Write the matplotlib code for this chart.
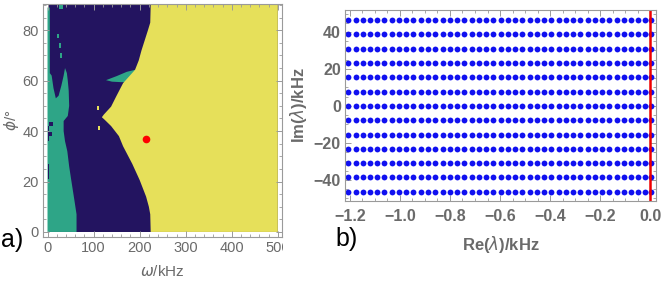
import numpy as np
import matplotlib
matplotlib.use("Agg")
import matplotlib.pyplot as plt
from matplotlib.ticker import MultipleLocator, FuncFormatter
from matplotlib.transforms import Bbox, TransformedBbox

plt.rcParams['font.family'] = ['Liberation Sans', 'DejaVu Sans']

# ---- panel a) stability map, region boundaries ----
omega_range = [0, 500]
phi_range = [0, 90]

# left edge of the yellow region (omega in kHz vs phi in degrees)
yellow_phi = [0, 7, 10, 14, 20.6, 27, 34, 38, 42, 44.5, 45.5, 46.5, 49.7, 53.7,
              59, 64.3, 68, 72, 76, 80, 83, 90]
yellow_omega = [224, 223, 220, 214, 200, 184, 164, 155, 138, 124, 118, 122, 138, 149,
                164, 190, 198, 204, 211, 218, 223, 224]

# teal region along the left edge
teal_omega = [0, 63, 63, 58, 52, 47, 43, 38, 35, 35, 44, 47, 46, 44, 42, 38, 35,
              30, 24, 18, 13, 9, 5, 5, 0]
teal_phi = [0, 0, 7, 13, 20, 26, 32, 36, 40, 44, 46, 50, 56, 60, 63, 65, 62,
            58, 54, 53, 57, 62, 63, 89, 89]

# thin teal sliver near phi = 60
sliver_omega = [127, 150, 172, 190, 190, 160, 140]
sliver_phi = [60.2, 61.8, 63.5, 64.3, 59.4, 59.4, 59.6]

# small teal specks (omega0, omega1, phi0, phi1)
teal_specks = [(25, 34, 88.5, 90), (20, 25, 77, 78.5), (25, 28.6, 73, 75), (27, 32, 69, 71)]
# small yellow specks
yellow_specks = [(108, 112, 48.5, 50), (110, 114, 40.5, 42)]
# dark purple bits inside the teal area
dark_specks = [(1, 9, 38, 39.5), (1, 3, 36, 42), (3, 11, 42, 43.5), (0, 3, 21, 27)]

marker_omega = 213
marker_phi = 37

# ---- panel b) eigenvalue spectrum ----
re_lambda = [-1.207, -1.178, -1.150, -1.120, -1.092, -1.063, -1.034, -1.004, -0.976,
             -0.947, -0.917, -0.889, -0.860, -0.830, -0.802, -0.773, -0.744, -0.714,
             -0.686, -0.657, -0.628, -0.598, -0.570, -0.541, -0.512, -0.482, -0.454,
             -0.425, -0.396, -0.366, -0.338, -0.309, -0.280, -0.250, -0.222, -0.193,
             -0.164, -0.134, -0.106, -0.077, -0.047, -0.021, 0.004]
im_lambda = [-46.5, -38.7, -31.0, -23.2, -15.5, -7.75, 0.0,
             7.75, 15.5, 23.2, 31.0, 38.7, 46.5]
threshold_re = -0.002

dark = '#231460'
teal = '#2ea587'
yellow = '#e6e05a'
frame_col = '#9a9a9a'
label_col = '#6a6a6a'

W, H = 664, 282
fig = plt.figure(figsize=(W / 100, H / 100), dpi=100)


def style_frame(ax):
    for s in ax.spines.values():
        s.set_color(frame_col)
        s.set_linewidth(0.8)
    ax.tick_params(which='both', direction='in', color=frame_col,
                   top=True, right=True, labelcolor=label_col)
    ax.tick_params(which='major', length=4, width=0.7)
    ax.tick_params(which='minor', length=2, width=0.6)


# panel a
ax1 = fig.add_axes([43 / W, 1 - 237 / H, (282 - 43) / W, (237 - 4) / H])
ax1.fill([omega_range[0], omega_range[1], omega_range[1], omega_range[0]],
         [phi_range[0], phi_range[0], phi_range[1], phi_range[1]], color=dark, lw=0)
ax1.fill(teal_omega, teal_phi, color=teal, lw=0)
ax1.fill(sliver_omega, sliver_phi, color=teal, lw=0)
for o0, o1, p0, p1 in teal_specks:
    ax1.fill([o0, o1, o1, o0], [p0, p0, p1, p1], color=teal, lw=0)
for o0, o1, p0, p1 in dark_specks:
    ax1.fill([o0, o1, o1, o0], [p0, p0, p1, p1], color=dark, lw=0)
ax1.fill(yellow_omega + [omega_range[1], omega_range[1]],
         yellow_phi + [phi_range[1], phi_range[0]], color=yellow, lw=0)
for o0, o1, p0, p1 in yellow_specks:
    ax1.fill([o0, o1, o1, o0], [p0, p0, p1, p1], color=yellow, lw=0)
ax1.plot([marker_omega], [marker_phi], 'o', color='#ff0000', ms=5.5, mec='none')
ax1.set_xlim(-9.8, 509)
ax1.set_ylim(-2, 90.4)
ax1.xaxis.set_major_locator(MultipleLocator(100))
ax1.xaxis.set_minor_locator(MultipleLocator(20))
ax1.yaxis.set_major_locator(MultipleLocator(20))
ax1.yaxis.set_minor_locator(MultipleLocator(5))
style_frame(ax1)
ax1.tick_params(labelsize=10.5, pad=3)
ax1.set_xlabel(r'$\omega$/kHz', color=label_col, fontsize=11, labelpad=6)
ax1.set_ylabel(r'$\phi$/°', color=label_col, fontsize=11, labelpad=1)
fig.text(1 / W, 1 - 240 / H, 'a)', fontsize=18, color='black', va='center', ha='left')

# panel b
ax2 = fig.add_axes([345 / W, 1 - 201 / H, (656 - 345) / W, (201 - 10) / H])
re_grid, im_grid = np.meshgrid(re_lambda, im_lambda)
ax2.plot(re_grid.ravel(), im_grid.ravel(), 'o', color='#1010f0', ms=4.2, mec='none')
ax2.axvline(threshold_re, color='#ee0000', lw=1.8)
ax2.set_xlim(-1.22, 0.024)
ax2.set_ylim(-51.5, 51.9)
ax2.xaxis.set_major_locator(MultipleLocator(0.2))
ax2.xaxis.set_minor_locator(MultipleLocator(0.05))
ax2.yaxis.set_major_locator(MultipleLocator(20))
ax2.yaxis.set_minor_locator(MultipleLocator(5))
ax2.xaxis.set_major_formatter(FuncFormatter(lambda v, p: f'{v:.1f}'.replace('-', '\u2212')))
ax2.yaxis.set_major_formatter(FuncFormatter(lambda v, p: f'{v:.0f}'.replace('-', '\u2212')))
style_frame(ax2)
ax2.tick_params(labelsize=11.5)
ax2.tick_params(axis='x', pad=6)
ax2.tick_params(axis='y', pad=3)
for lab in ax2.get_xticklabels() + ax2.get_yticklabels():
    lab.set_fontweight('bold')
ax2.set_xlabel(r'Re($\lambda$)/kHz', color=label_col, fontsize=12, fontweight='bold', labelpad=7)
ax2.set_ylabel(r'Im($\lambda$)/kHz', color=label_col, fontsize=12, fontweight='bold', labelpad=3)
fig.text(335 / W, 1 - 239 / H, 'b)', fontsize=18, color='black', va='center', ha='left')

# the left picture is cut at its right edge
clip = TransformedBbox(Bbox([[0, 0], [283 / W, 1]]), fig.transFigure)
for lab in ax1.get_xticklabels():
    lab.set_clip_box(clip)
    lab.set_clip_on(True)

fig.savefig('out.png', dpi=100)
